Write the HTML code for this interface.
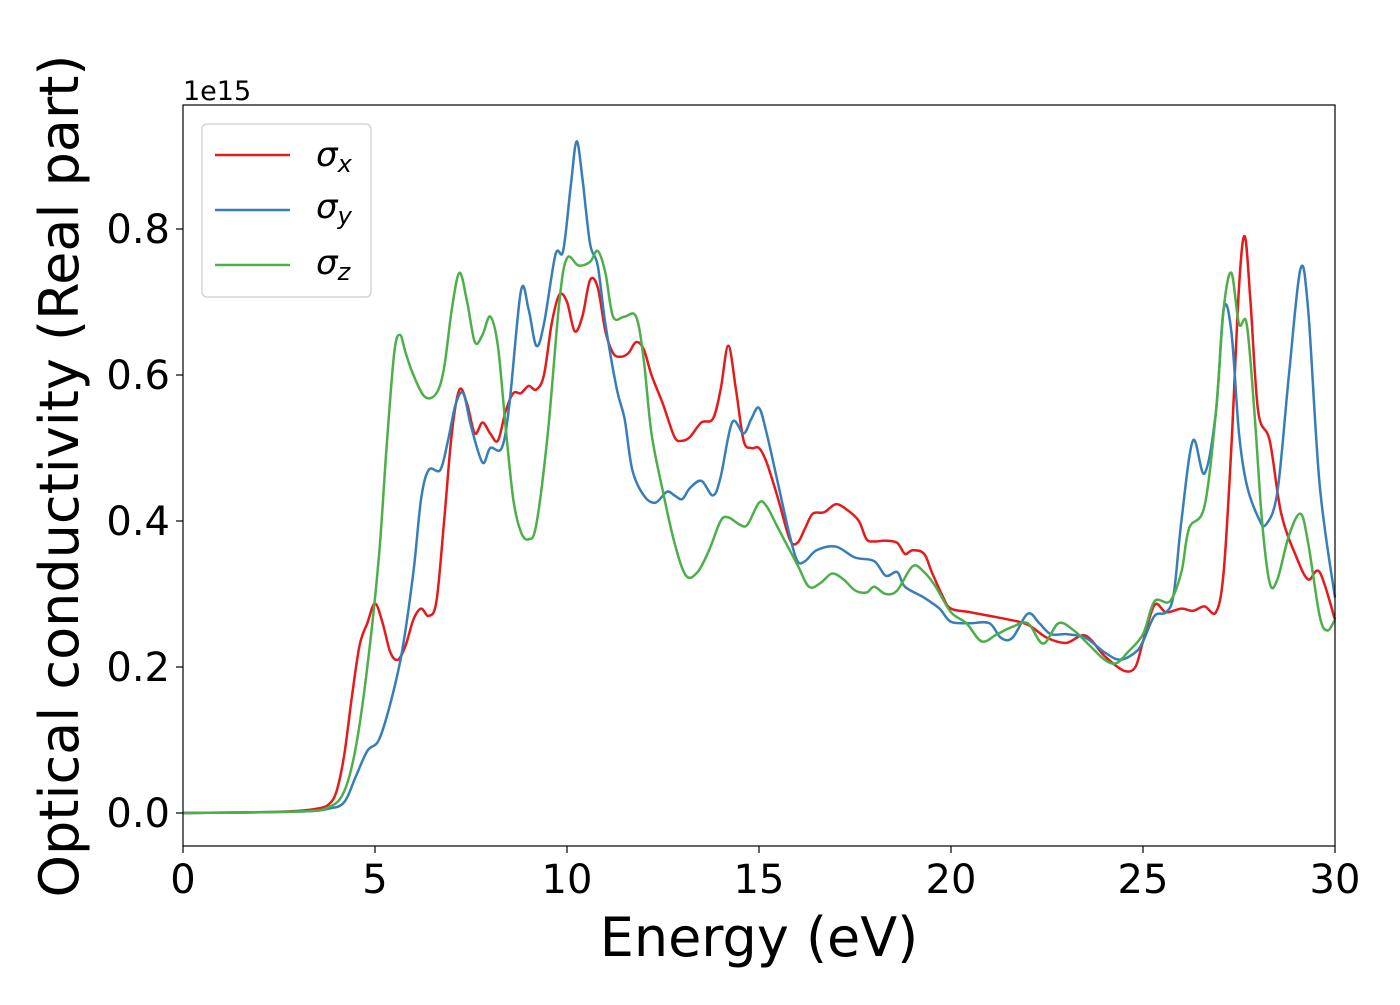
<!DOCTYPE html>
<html><head><meta charset="utf-8"><style>
body{margin:0;background:#fff;}
svg text{font-family:"DejaVu Sans","Liberation Sans",sans-serif;}
</style></head><body>
<svg id="chart" width="1400" height="1000" xmlns="http://www.w3.org/2000/svg">
<g id="ticks"></g>
<g id="series"></g>
<rect x="183" y="105" width="1152" height="741" fill="none" stroke="#000" stroke-width="1.2"/>
<text x="183" y="100" font-size="27">1e15</text>
<text x="759" y="956" font-size="54" text-anchor="middle">Energy (eV)</text>
<text transform="translate(78,476) rotate(-90)" font-size="54" text-anchor="middle">Optical conductivity (Real part)</text>
<g>
<rect x="202" y="124" width="169" height="173" rx="5" fill="#fff" stroke="#ccc" stroke-width="1.2"/>
<line x1="215" y1="155" x2="290" y2="155" stroke="#e41a1c" stroke-width="2.5"/>
<text x="316" y="166" font-size="34" font-style="italic">σ<tspan font-size="24" dy="6">x</tspan></text>
<line x1="215" y1="210" x2="290" y2="210" stroke="#377eb8" stroke-width="2.5"/>
<text x="316" y="218" font-size="34" font-style="italic">σ<tspan font-size="24" dy="6">y</tspan></text>
<line x1="215" y1="265" x2="290" y2="265" stroke="#4daf4a" stroke-width="2.5"/>
<text x="316" y="274" font-size="34" font-style="italic">σ<tspan font-size="24" dy="6">z</tspan></text>
</g>
</svg>
<script>
const xTicks=[0,5,10,15,20,25,30];
const yTicks=[0,0.2,0.4,0.6,0.8];
const yTickLabels=["0.0","0.2","0.4","0.6","0.8"];
const energyX=[0,2,3,3.5,3.8,4.0,4.2,4.4,4.6,4.8,5.0,5.2,5.4,5.6,5.8,6.0,6.2,6.4,6.6,6.8,7.0,7.2,7.4,7.6,7.8,8.0,8.2,8.4,8.6,8.8,9.0,9.2,9.4,9.6,9.8,10.0,10.2,10.4,10.6,10.8,11.0,11.2,11.4,11.6,11.8,12.0,12.2,12.5,12.8,13.0,13.2,13.5,13.8,14.0,14.2,14.4,14.6,14.8,15.0,15.2,15.5,15.8,16.0,16.2,16.4,16.7,17.0,17.3,17.6,17.8,18.0,18.3,18.6,18.8,19.0,19.3,19.5,19.8,20.0,20.5,21.0,21.5,22.0,22.5,23.0,23.5,24.0,24.5,24.8,25.0,25.3,25.6,26.0,26.3,26.6,26.9,27.1,27.3,27.5,27.65,27.8,28.0,28.3,28.6,29.0,29.3,29.6,30];
const sigmaX=[0,0.001,0.003,0.006,0.012,0.03,0.08,0.16,0.23,0.26,0.287,0.26,0.22,0.21,0.23,0.265,0.28,0.27,0.29,0.4,0.52,0.58,0.56,0.52,0.535,0.52,0.51,0.55,0.575,0.575,0.585,0.58,0.6,0.67,0.71,0.7,0.66,0.68,0.73,0.72,0.66,0.63,0.625,0.63,0.645,0.635,0.6,0.56,0.515,0.51,0.515,0.535,0.54,0.58,0.64,0.58,0.51,0.5,0.5,0.48,0.43,0.375,0.37,0.39,0.41,0.412,0.423,0.415,0.4,0.375,0.372,0.373,0.37,0.355,0.36,0.355,0.33,0.295,0.28,0.275,0.27,0.265,0.258,0.24,0.233,0.243,0.215,0.195,0.2,0.235,0.285,0.275,0.28,0.277,0.283,0.275,0.33,0.5,0.72,0.79,0.7,0.55,0.51,0.41,0.35,0.32,0.33,0.265];
const energyY=[0,3,3.8,4.2,4.5,4.8,5.1,5.4,5.7,6.0,6.2,6.4,6.7,6.9,7.1,7.3,7.5,7.8,8.0,8.3,8.5,8.8,9.0,9.2,9.4,9.7,9.9,10.1,10.25,10.4,10.6,10.8,11.0,11.3,11.5,11.7,12.0,12.3,12.6,12.8,13.0,13.2,13.5,13.8,14.0,14.3,14.6,14.8,15.0,15.2,15.5,15.8,16.0,16.2,16.5,17.0,17.5,18.0,18.3,18.6,18.8,19.3,19.7,20.0,20.5,21.0,21.3,21.6,22.0,22.3,22.6,23.0,23.5,24.0,24.4,24.8,25.0,25.3,25.6,25.8,26.0,26.3,26.6,26.9,27.1,27.3,27.5,27.7,28.0,28.2,28.5,28.8,29.1,29.3,29.6,30];
const sigmaY=[0,0.002,0.006,0.015,0.05,0.085,0.1,0.15,0.22,0.33,0.43,0.47,0.47,0.51,0.56,0.575,0.53,0.48,0.5,0.5,0.56,0.715,0.69,0.64,0.67,0.765,0.77,0.86,0.92,0.87,0.78,0.75,0.67,0.58,0.54,0.47,0.435,0.425,0.44,0.435,0.43,0.445,0.455,0.435,0.46,0.535,0.52,0.54,0.555,0.52,0.45,0.38,0.345,0.345,0.36,0.365,0.35,0.345,0.325,0.33,0.31,0.295,0.28,0.262,0.26,0.26,0.24,0.24,0.273,0.26,0.245,0.245,0.24,0.22,0.21,0.22,0.235,0.27,0.275,0.3,0.4,0.51,0.465,0.55,0.69,0.66,0.52,0.45,0.405,0.395,0.44,0.6,0.745,0.69,0.45,0.295];
const energyZ=[0,3,3.8,4.2,4.5,4.8,5.1,5.3,5.5,5.65,5.8,6.0,6.3,6.6,6.8,7.0,7.2,7.4,7.6,7.8,8.0,8.2,8.4,8.6,8.8,9.0,9.2,9.5,9.8,10.0,10.3,10.6,10.8,11.0,11.2,11.5,11.8,12.0,12.2,12.5,12.8,13.1,13.4,13.7,14.0,14.2,14.5,14.7,15.0,15.2,15.5,16.0,16.3,16.6,16.9,17.2,17.5,17.8,18.0,18.3,18.6,19.0,19.3,19.6,20.0,20.4,20.8,21.2,21.6,22.0,22.4,22.8,23.2,23.6,24.0,24.3,24.6,25.0,25.3,25.7,26.0,26.2,26.6,26.9,27.1,27.3,27.5,27.7,27.9,28.1,28.3,28.5,28.8,29.1,29.3,29.6,29.8,30];
const sigmaZ=[0,0.002,0.008,0.03,0.09,0.2,0.35,0.5,0.63,0.655,0.63,0.6,0.57,0.575,0.61,0.69,0.74,0.7,0.645,0.655,0.68,0.64,0.53,0.43,0.385,0.375,0.395,0.52,0.7,0.76,0.75,0.755,0.77,0.74,0.68,0.68,0.68,0.62,0.52,0.44,0.37,0.325,0.33,0.36,0.4,0.405,0.395,0.395,0.425,0.42,0.39,0.34,0.31,0.315,0.328,0.32,0.305,0.302,0.31,0.3,0.305,0.338,0.33,0.31,0.275,0.26,0.235,0.245,0.255,0.26,0.232,0.26,0.25,0.23,0.21,0.205,0.22,0.245,0.29,0.29,0.33,0.39,0.42,0.55,0.69,0.74,0.67,0.67,0.55,0.4,0.315,0.32,0.38,0.41,0.37,0.27,0.25,0.265];

const NS="http://www.w3.org/2000/svg";
const X0=183,X1=1335,Y0=813,PX=(X1-X0)/30,PY=730;
const sx=v=>X0+v*PX, sy=v=>Y0-v*PY;
const tg=document.getElementById('ticks'), sg=document.getElementById('series');
function mk(t,a,p){const e=document.createElementNS(NS,t);for(const k in a)e.setAttribute(k,a[k]);p.appendChild(e);return e;}
xTicks.forEach(t=>{
  const l=mk('line',{x1:sx(t),x2:sx(t),y1:846,y2:853,stroke:'#000','stroke-width':1.2},tg);
  
  
  const tx=mk('text',{x:sx(t),y:893,'font-size':40,'text-anchor':'middle'},tg);tx.textContent=t;
  
  
});
yTicks.forEach((t,i)=>{
  const l=mk('line',{x1:176,x2:183,y1:sy(t),y2:sy(t),stroke:'#000','stroke-width':1.2},tg);
  
  
  const tx=mk('text',{x:170,y:sy(t)+14,'font-size':40,'text-anchor':'end'},tg);tx.textContent=yTickLabels[i];
  
  
});
function pathD(xs,ys){
  const p=xs.map((x,i)=>[sx(x),sy(ys[i])]);
  let d='M'+p[0][0]+','+p[0][1];
  for(let i=0;i<p.length-1;i++){
    const a=p[Math.max(0,i-1)],b=p[i],c=p[i+1],e=p[Math.min(p.length-1,i+2)];
    const c1=[b[0]+(c[0]-a[0])/6,b[1]+(c[1]-a[1])/6],c2=[c[0]-(e[0]-b[0])/6,c[1]-(e[1]-b[1])/6];
    d+=` C${c1[0]},${c1[1]} ${c2[0]},${c2[1]} ${c[0]},${c[1]}`;
  }
  return d;
}
[[energyX,sigmaX,'#e41a1c','sigma-x-line'],[energyY,sigmaY,'#377eb8','sigma-y-line'],[energyZ,sigmaZ,'#4daf4a','sigma-z-line']].forEach(s=>{
  const p=mk('path',{d:pathD(s[0],s[1]),fill:'none',stroke:s[2],'stroke-width':2.5},sg);
  
  
});
</script>
</body></html>
